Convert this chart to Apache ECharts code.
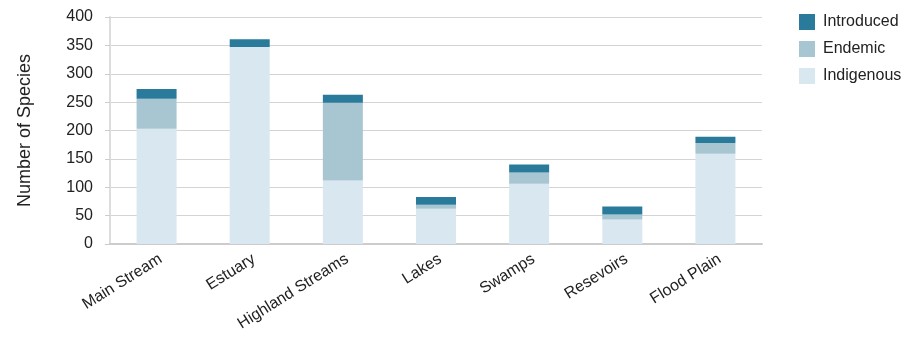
<!DOCTYPE html>
<html>
<head>
<meta charset="utf-8">
<script src="https://cdn.jsdelivr.net/npm/echarts@6/dist/echarts.min.js"></script>
<style>
html,body{margin:0;padding:0;background:#fff;}
#chart{width:910px;height:340px;}
</style>
</head>
<body>
<div id="chart"></div>
<script>
var categories = ['Main Stream', 'Estuary', 'Highland Streams', 'Lakes', 'Swamps', 'Resevoirs', 'Flood Plain'];
var indigenous = [203, 347, 112, 62, 106, 43, 159];
var endemic = [53, 0, 137, 7, 20, 9, 19];
var introduced = [17, 14, 14, 14, 14, 14, 11];

var chart = echarts.init(document.getElementById('chart'));
var font = 'Liberation Sans, Arial, sans-serif';

function bar(name, data, color) {
    return {
        name: name,
        type: 'bar',
        stack: 'total',
        data: data,
        barWidth: 40,
        itemStyle: { color: color },
        emphasis: { disabled: true }
    };
}

var option = {
    animation: false,
    textStyle: { fontFamily: font },
    grid: { // plot area
        left: 110,
        right: 148,
        top: 17,
        bottom: 96
    },
    legend: {
        orient: 'vertical',
        left: 794,
        top: 9,
        itemWidth: 16,
        itemHeight: 16,
        itemGap: 11,
        icon: 'rect',
        textStyle: { fontFamily: font, fontSize: 16, color: '#222', padding: [0, 0, 0, 3] },
        data: ['Introduced', 'Endemic', 'Indigenous']
    },
    xAxis: {
        type: 'category',
        data: categories,
        axisLine: { lineStyle: { color: '#ccc', width: 2 } },
        axisTick: { show: false },
        axisLabel: {
            rotate: 32,
            fontSize: 16,
            color: '#222',
            fontFamily: font,
            verticalAlign: 'top',
            margin: 7
        }
    },
    yAxis: {
        type: 'value',
        min: 0,
        max: 400,
        interval: 50,
        name: 'Number of Species',
        nameLocation: 'middle',
        nameGap: 76,
        nameTextStyle: { fontSize: 18, color: '#222', fontFamily: font },
        axisLine: { show: true, lineStyle: { color: '#ddd', width: 2 } },
        axisTick: { show: true, length: 5, lineStyle: { color: '#ccc' } },
        axisLabel: { fontSize: 16, color: '#222', fontFamily: font, margin: 17 },
        splitLine: { lineStyle: { color: '#d4d4d4', width: 1 } }
    },
    series: [
        bar('Indigenous', indigenous, '#d9e7f0'),
        bar('Endemic', endemic, '#a8c5d2'),
        bar('Introduced', introduced, '#2a7a9b')
    ]
};
chart.setOption(option);
</script>
</body>
</html>
